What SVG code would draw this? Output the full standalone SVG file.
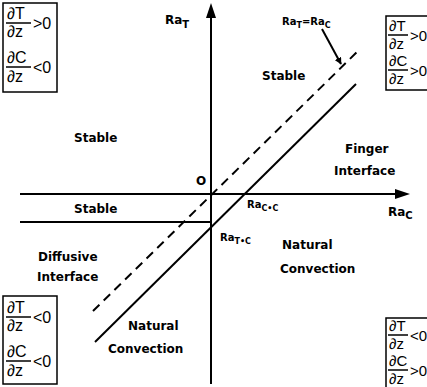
<svg xmlns="http://www.w3.org/2000/svg" width="427" height="387" viewBox="0 0 427 387">
<defs>
<style>
.ln{stroke:#000;stroke-width:2;fill:none}
.dash{stroke:#000;stroke-width:2;fill:none;stroke-dasharray:9 6}
.box{stroke:#000;stroke-width:1.5;fill:#fff}
.lbl{font-family:"DejaVu Sans",sans-serif;font-weight:bold;font-size:12px;fill:#000}
.sm{font-family:"DejaVu Sans",sans-serif;font-weight:bold;font-size:10px;fill:#000}
.fr{font-family:"Liberation Sans",Arial,sans-serif;font-size:16px;fill:#000}
.fs{font-family:"Liberation Sans",Arial,sans-serif;font-size:15px;fill:#000}
.bar{stroke:#000;stroke-width:1.5}
</style>
<marker id="ah" viewBox="0 0 10 10" refX="9" refY="5" markerWidth="7" markerHeight="7" orient="auto" markerUnits="userSpaceOnUse">
<path d="M0,0 L10,5 L0,10 z" fill="#000"/>
</marker>
</defs>
<rect width="427" height="387" fill="#fff"/>
<g id="connectors">
<line class="ln" x1="211" y1="384" x2="211" y2="14"/>
<path d="M211,3 L206,18 L216,18 z" fill="#000"/>
<line class="ln" x1="20" y1="194" x2="398" y2="194"/>
<path d="M410,194 L395,189 L395,199 z" fill="#000"/>
<line class="ln" x1="20" y1="222" x2="211" y2="222"/>
<line class="ln" x1="95" y1="342" x2="356" y2="84"/>
<line class="dash" x1="93" y1="311" x2="357" y2="52"/>
<line class="ln" x1="322" y1="29" x2="341" y2="64" marker-end="url(#ah)"/>
</g>
<g id="box-tl">
<rect class="box" x="3" y="3" width="54" height="89"/>
<text class="fr" x="7" y="19">∂T</text>
<line class="bar" x1="6" y1="23" x2="31" y2="23"/>
<text class="fr" x="7" y="37">∂z</text>
<text class="fr" x="33" y="29">&gt;0</text>
<text class="fr" x="7" y="63">∂C</text>
<line class="bar" x1="6" y1="67" x2="31" y2="67"/>
<text class="fr" x="7" y="82">∂z</text>
<text class="fr" x="33" y="73">&lt;0</text>
</g>
<g id="box-tr">
<rect class="box" x="386" y="16" width="44" height="74"/>
<text class="fs" x="389" y="31">∂T</text>
<line class="bar" x1="388" y1="35" x2="408" y2="35"/>
<text class="fs" x="389" y="49">∂z</text>
<text class="fs" x="410" y="41">&gt;0</text>
<text class="fs" x="389" y="66">∂C</text>
<line class="bar" x1="388" y1="70" x2="408" y2="70"/>
<text class="fs" x="389" y="84">∂z</text>
<text class="fs" x="410" y="76">&gt;0</text>
</g>
<g id="box-bl">
<rect class="box" x="3" y="296" width="54" height="88"/>
<text class="fr" x="7" y="313">∂T</text>
<line class="bar" x1="6" y1="317" x2="31" y2="317"/>
<text class="fr" x="7" y="331">∂z</text>
<text class="fr" x="33" y="323">&lt;0</text>
<text class="fr" x="7" y="357">∂C</text>
<line class="bar" x1="6" y1="361" x2="31" y2="361"/>
<text class="fr" x="7" y="376">∂z</text>
<text class="fr" x="33" y="367">&lt;0</text>
</g>
<g id="box-br">
<rect class="box" x="386" y="318" width="44" height="72"/>
<text class="fs" x="389" y="331">∂T</text>
<line class="bar" x1="388" y1="335" x2="408" y2="335"/>
<text class="fs" x="389" y="349">∂z</text>
<text class="fs" x="410" y="341">&lt;0</text>
<text class="fs" x="389" y="366">∂C</text>
<line class="bar" x1="388" y1="370" x2="408" y2="370"/>
<text class="fs" x="389" y="384">∂z</text>
<text class="fs" x="410" y="376">&gt;0</text>
</g>
<g id="labels">
<text class="lbl" x="165" y="24" font-size="14">Ra<tspan class="sm" font-size="11" dy="4">T</tspan></text>
<text class="sm" x="282" y="25">Ra<tspan font-size="8" dy="3">T</tspan><tspan dy="-3">=Ra</tspan><tspan font-size="8" dy="3">C</tspan></text>
<text class="lbl" x="262" y="80">Stable</text>
<text class="lbl" x="74" y="142">Stable</text>
<text class="lbl" x="196" y="185">O</text>
<text class="lbl" x="345" y="153">Finger</text>
<text class="lbl" x="334" y="175">Interface</text>
<text class="lbl" x="74" y="213">Stable</text>
<text class="sm" x="247" y="208">Ra<tspan font-size="8" dy="3">C•C</tspan></text>
<text class="lbl" x="388" y="216">Ra<tspan class="sm" dy="3">C</tspan></text>
<text class="sm" x="220" y="241">Ra<tspan font-size="8" dy="3">T•C</tspan></text>
<text class="lbl" x="38" y="261">Diffusive</text>
<text class="lbl" x="37" y="281">Interface</text>
<text class="lbl" x="282" y="249">Natural</text>
<text class="lbl" x="280" y="273">Convection</text>
<text class="lbl" x="128" y="330">Natural</text>
<text class="lbl" x="108" y="353">Convection</text>
</g>
</svg>
